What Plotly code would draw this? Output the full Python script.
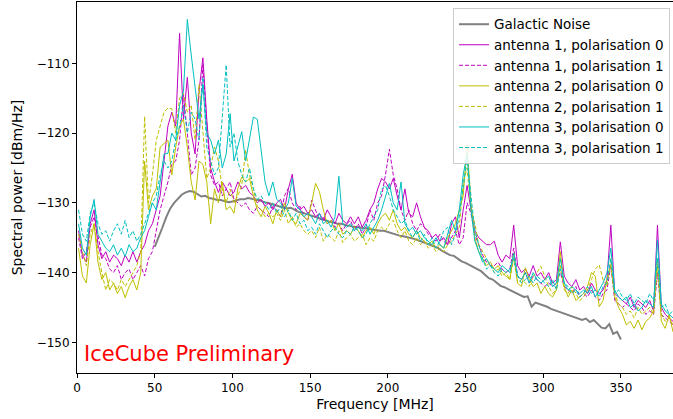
import numpy as np
import plotly.graph_objects as go

# frequency grid of the antenna spectra [MHz]
freq = [round(1 + 2.5 * i, 1) for i in range(154)]

ant1_pol0 = [
    -134, -137.5, -138.5, -133, -131, -136, -138, -137, -138.5, -137.5,
    -138, -139, -137.5, -138.5, -137, -138.5, -137, -136, -134, -133,
    -131, -129, -124, -119, -117, -119, -105.7, -118, -112, -120,
    -123, -114, -109.2, -118, -125, -127, -128.5, -127, -128, -129,
    -128.5, -127, -128, -127.5, -128.5, -129, -130, -129.5, -130.5, -130,
    -131, -130, -129.5, -131, -128, -125.9, -130, -131, -130.5, -131.5,
    -131, -132, -131.5, -132.5, -131, -132, -133, -131.5, -132.5, -133,
    -132, -133, -132, -133.5, -132.5, -131, -130, -128, -126.5, -127,
    -128, -126.5, -129, -131, -128, -131.5, -132, -130, -132, -133.5,
    -134, -135, -134.5, -135.5, -135, -136, -133, -132, -135, -131,
    -127.5, -131, -134, -135, -135.5, -136, -136, -135.5, -137.5, -138.5,
    -137.5, -138, -133.2, -139, -140, -139.5, -140.5, -139, -140.5, -140,
    -141, -140, -141.5, -141, -135.6, -140.5, -141.5, -142, -141, -142.5,
    -142, -143, -141.5, -142.5, -143, -142.5, -141, -133.2, -143, -143.5,
    -144, -144.5, -143.5, -145, -144, -144.5, -145, -144, -145.5, -133.2,
    -145, -146, -146.5, -147,
]
ant1_pol1 = [
    -135, -138, -137, -133.5, -132, -135, -137.5, -138, -139.5, -140,
    -139, -141, -140, -139.5, -141, -140, -139, -140.5, -138, -137,
    -134, -131, -129, -127, -124.5, -124, -121, -114.5, -120, -126,
    -125, -121, -110.2, -119, -126, -127.5, -127, -129, -128, -127,
    -129.5, -130, -130.5, -130, -131, -131.5, -130.5, -131, -131.5, -132,
    -130.5, -131, -132, -129, -127.9, -130, -131, -130.5, -132, -132.5,
    -129.6, -131, -132.5, -132, -133, -132.5, -133.5, -133, -134, -133,
    -132.5, -134, -133, -134.5, -133.5, -131, -132.5, -130, -129, -126,
    -122.3, -126, -128, -131, -132.5, -131, -133, -134, -133, -133.5,
    -134.5, -135, -135.5, -134.5, -135.5, -136, -135, -134, -136, -135,
    -130, -131.5, -134.5, -136, -137.5, -138.5, -139, -139, -138.5, -139.5,
    -140, -139.5, -136.5, -140.5, -141, -140, -141.5, -140.5, -141, -141.5,
    -142, -141.5, -142, -141.5, -140, -142, -142.5, -143, -142, -143.5,
    -143, -143.5, -142.5, -143.5, -144, -143, -142.5, -139, -144, -144.5,
    -145, -144.5, -145, -145.5, -144.5, -145, -146, -145.5, -146, -140,
    -146, -146.5, -147, -147.5,
]
ant2_pol0 = [
    -136.5, -140.5, -141.5, -136, -133, -138.5, -141, -140, -142.5, -141.5,
    -143, -142, -143.6, -142, -141, -142.5, -140, -124, -131, -129,
    -128, -122, -121.5, -121, -126, -122, -119, -118, -122, -127,
    -129.6, -124, -124.5, -127, -133, -128, -130, -127, -131, -130.5,
    -131.5, -128, -126.3, -127, -126.5, -129, -131, -132, -130.5, -131.5,
    -133, -131, -132, -130, -131.5, -132.5, -133, -131.5, -132, -132.5,
    -130, -127.2, -128.4, -131, -133, -132.5, -134, -133, -134.5, -134,
    -134.5, -133.5, -134, -135, -134, -133.5, -134.5, -133, -132, -131.5,
    -132.5, -131, -133, -134, -133.5, -134.5, -135, -134, -135, -135.5,
    -136, -135.5, -136.5, -136, -136.5, -135, -134, -133, -131, -129,
    -121.7, -130, -135, -137, -138, -139, -138.5, -139.5, -139, -140,
    -140.5, -141, -137.2, -141.5, -142, -139.3, -141, -142, -141.5, -143,
    -142, -143, -143.5, -142.5, -137, -142, -143.5, -142.5, -144, -143.5,
    -143, -142, -140, -140.5, -144.9, -144, -141, -139, -143.5, -145,
    -146, -147.5, -147, -148, -146.8, -148.2, -147, -146.5, -145.5, -138,
    -147, -148, -146, -148.5,
]
ant2_pol1 = [
    -134.5, -137, -139, -134.5, -133, -137, -140, -142.5, -141, -141.5,
    -142.5, -141, -142, -141, -140, -139, -137, -117.6, -130, -126,
    -121, -119, -117, -116.4, -116.5, -120, -115, -114.3, -117, -116,
    -121, -113, -120, -126.5, -125, -122, -124, -128, -130, -128,
    -130, -129, -127.5, -122.4, -126, -128, -130.5, -131, -132, -131.5,
    -132, -131.5, -132.5, -131, -133, -132, -133.5, -133, -134, -134.5,
    -134, -135, -133.5, -135.5, -134.5, -135, -135.5, -134, -135.7, -135,
    -134.5, -135.5, -135, -134.5, -136, -135, -135.5, -134, -133.5, -134,
    -133, -132.5, -134, -135, -134, -135.5, -136, -135, -136, -135.5,
    -136.5, -136, -137, -136.5, -137, -136, -135.5, -134.5, -133.5, -127,
    -125, -131, -133, -136, -137, -138, -139, -140, -139.5, -140.5,
    -140, -141, -138, -141.5, -141, -141.5, -142, -140.5, -140, -139.1,
    -140.5, -142, -143, -142.5, -139, -142.5, -143, -142, -143, -144,
    -143.5, -142.5, -141, -139.5, -138.9, -141, -142, -138, -143, -144.5,
    -145, -146, -145.5, -146.5, -145, -146, -145.5, -145, -146, -139,
    -146, -147, -146.5, -147.5,
]
ant3_pol0 = [
    -133, -136.5, -137.5, -132, -129.5, -134.5, -135.5, -136.5, -137, -136,
    -137.5, -136.5, -137.7, -136, -137, -136.5, -135, -134, -132, -130,
    -131, -127, -123, -122.9, -120, -121, -116, -114, -103.7, -108.8,
    -113, -118, -113, -120, -121, -123, -121, -125, -123, -117.2,
    -124, -122, -119.8, -124, -121, -117.7, -118, -122.4, -127, -129,
    -127, -129.5, -130, -131, -130, -126.5, -130.5, -131, -132, -131.5,
    -132, -133, -131.5, -133, -132.5, -133.5, -132, -126.2, -133, -133.5,
    -133, -134, -133.5, -134, -133, -134.5, -133.5, -132.5, -131, -129,
    -127.2, -130, -131, -127, -133, -134, -133.5, -134.5, -134, -135,
    -135.5, -136, -135, -136, -136.5, -134.5, -132.5, -134, -131, -126,
    -122.9, -131, -135.5, -137, -138.5, -138, -139, -139.5, -140, -139,
    -139.5, -140, -137.2, -140.5, -141, -140, -141.5, -140, -141, -141.5,
    -141, -140.5, -142, -141.5, -138, -141.5, -142.5, -142, -142.5, -143,
    -142.5, -143, -142, -143.5, -142.5, -141.5, -140, -136.5, -142.5, -143.5,
    -144, -143.5, -145, -144.5, -145.5, -145, -144, -144.5, -145, -135.3,
    -144.5, -145.5, -146, -146.5,
]
ant3_pol1 = [
    -131, -134.5, -135.5, -131.5, -130, -133, -134.5, -134, -135.5, -134,
    -133, -134.5, -132.5, -135, -134, -135.5, -134.5, -133, -131.5, -130,
    -129, -126, -124, -125, -124, -121, -119, -116, -120, -117,
    -118, -121, -112, -122, -124, -126, -125, -117, -110.2, -122,
    -120, -124, -126, -127, -125, -128, -129.5, -129, -130, -131,
    -130, -131.5, -130.5, -132, -131, -132.5, -131.5, -133, -132.5, -134,
    -133.5, -134.5, -133, -134, -135, -134, -133.5, -134.5, -135, -134,
    -134.5, -133.5, -134, -135, -134.5, -133, -132, -131, -128, -127.5,
    -129, -131, -132, -133, -132.5, -134, -135, -134, -135.5, -134.5,
    -136, -135, -136.5, -135.5, -134, -133.5, -136, -134.5, -132, -128,
    -123.5, -129, -134, -136, -138, -139.5, -139, -140, -140.5, -139.5,
    -140, -139.5, -138, -140.5, -141.5, -141, -140.5, -141.5, -140.5, -141,
    -141.5, -142, -141, -142.5, -139.5, -141.5, -142, -143, -142.5, -143.5,
    -143, -142, -143, -142.5, -143.5, -142, -141.5, -138, -143, -142.5,
    -143.5, -144, -143, -144.5, -143.5, -144, -144.5, -143, -144, -138,
    -145, -144.5, -146, -145.5,
]

# galactic noise model
gal_freq = [round(50 + 2.5 * i, 1) for i in range(121)]
gal_noise = [
    -136.3, -135.0, -133.5, -132.0, -130.8, -130.0, -129.4, -128.8, -128.5, -128.3,
    -128.4, -128.8, -129.1, -129.0, -129.3, -129.4, -129.6, -129.6, -129.8, -129.9,
    -129.8, -129.6, -129.5, -129.5, -129.3, -129.4, -129.6, -129.6, -129.9, -130.0,
    -130.2, -130.4, -130.5, -130.6, -130.8, -130.7, -131.0, -131.3, -131.4, -131.6,
    -131.8, -132.0, -132.1, -132.3, -132.5, -132.7, -132.8, -133.0, -133.0, -133.2,
    -133.3, -133.4, -133.5, -133.5, -133.7, -133.8, -133.8, -133.9, -134.0, -134.0,
    -134.2, -134.4, -134.5, -134.7, -134.8, -134.9, -135.1, -135.2, -135.4, -135.6,
    -135.8, -136.1, -136.3, -136.5, -136.9, -137.2, -137.5, -137.6, -138.0, -138.4,
    -138.6, -138.9, -139.1, -139.5, -139.8, -140.3, -140.8, -141.0, -141.4, -141.9,
    -142.1, -142.4, -142.6, -142.9, -143.3, -143.5, -143.4, -144.9, -144.3, -144.5,
    -144.6, -144.9, -145.2, -145.4, -145.5, -145.8, -146.0, -146.2, -146.4, -146.5,
    -146.8, -146.6, -147.1, -146.8, -147.3, -147.9, -148.0, -147.4, -148.8, -148.5,
    -149.6,
]

x_ticks = [0, 50, 100, 150, 200, 250, 300, 350]
y_ticks = [-150, -140, -130, -120, -110]

MAG, YEL, CYA = "#bf00bf", "#bfbf00", "#00bfbf"
series = [
    ("antenna 1, polarisation 0", ant1_pol0, MAG, "solid"),
    ("antenna 1, polarisation 1", ant1_pol1, MAG, "4px,2px"),
    ("antenna 2, polarisation 0", ant2_pol0, YEL, "solid"),
    ("antenna 2, polarisation 1", ant2_pol1, YEL, "4px,2px"),
    ("antenna 3, polarisation 0", ant3_pol0, CYA, "solid"),
    ("antenna 3, polarisation 1", ant3_pol1, CYA, "4px,2px"),
]

fig = go.Figure()
fig.add_trace(go.Scatter(x=gal_freq, y=gal_noise, mode="lines", name="Galactic Noise",
                         line=dict(color="#808080", width=2)))
for name, vals, col, dash in series:
    fig.add_trace(go.Scatter(x=freq, y=vals, mode="lines", name=name,
                             line=dict(color=col, width=1, dash=dash)))

fig.add_annotation(text="IceCube Preliminary", xref="paper", yref="paper",
                   x=0.008, y=0.05, xanchor="left", yanchor="middle", showarrow=False,
                   font=dict(color="red", size=21, family="DejaVu Sans"))

fig.update_layout(
    width=673, height=419,
    margin=dict(l=77, r=0, t=2, b=46, autoexpand=False),
    paper_bgcolor="white", plot_bgcolor="white",
    font=dict(family="DejaVu Sans", size=12, color="black"),
    showlegend=True,
    legend=dict(x=0.995, y=0.984, xanchor="right", yanchor="top",
                bgcolor="rgba(255,255,255,0.85)", bordercolor="#cccccc", borderwidth=1,
                font=dict(size=13.5), itemwidth=30, tracegroupgap=0),
)
fig.update_xaxes(range=[0, 383.5], tickvals=x_ticks, showgrid=False, zeroline=False,
                 showline=True, linecolor="black", linewidth=1, mirror=True,
                 ticks="outside", ticklen=4, tickcolor="black", automargin=False,
                 title=dict(text="Frequency [MHz]", standoff=4))
fig.update_yaxes(range=[-154.4, -101.2], tickvals=y_ticks, showgrid=False, zeroline=False,
                 showline=True, linecolor="black", linewidth=1,
                 ticks="outside", ticklen=4, tickcolor="black", automargin=False,
                 title=dict(text="Spectral power [dBm/Hz]", standoff=10))

fig.write_html("out.html", config={"displayModeBar": False},
               post_script="document.body.style.margin='0';document.body.style.overflow='hidden';")
